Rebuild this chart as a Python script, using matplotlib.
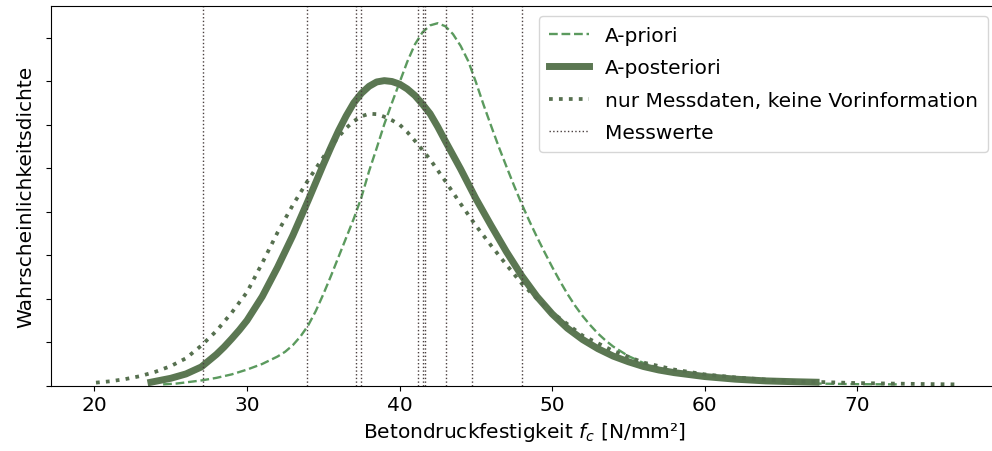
import numpy as np
import matplotlib
matplotlib.use("Agg")
import matplotlib.pyplot as plt

# values (density, x in N/mm²)
prior_x = [24.5, 25.4, 27, 28, 29, 30, 31, 32, 32.5, 33, 33.5, 34, 34.5, 35, 35.5, 36, 36.5,
           37, 37.5, 38, 38.5, 39, 39.5, 40, 40.5, 41, 41.5, 42, 42.5, 43, 43.5, 44, 44.5, 45,
           45.5, 46, 46.5, 47, 47.5, 48, 48.5, 49, 49.5, 50, 50.5, 51, 51.5, 52, 52.5, 53,
           53.5, 54, 55, 56, 57, 58, 60, 62, 64, 66, 68, 70, 72.6]
prior_y = [0.0003, 0.0005, 0.0012, 0.0018, 0.0026, 0.0037, 0.0050, 0.0067, 0.0078, 0.0093,
           0.0113, 0.0138, 0.0171, 0.0210, 0.0252, 0.0296, 0.0340, 0.0384, 0.0433, 0.0493,
           0.0546, 0.0601, 0.0650, 0.0697, 0.0744, 0.0784, 0.0812, 0.0828, 0.0833, 0.0826,
           0.0808, 0.0781, 0.0746, 0.0698, 0.0646, 0.0597, 0.0549, 0.0504, 0.0460, 0.0418,
           0.0379, 0.0342, 0.0307, 0.0273, 0.0241, 0.0211, 0.0184, 0.0160, 0.0139, 0.0120,
           0.0104, 0.0090, 0.0068, 0.0052, 0.0040, 0.0031, 0.0020, 0.0013, 0.0009, 0.0006,
           0.00045, 0.00035, 0.0003]

post_x = [23.7, 25, 26, 27, 28, 28.5, 29, 29.5, 30, 31, 32, 33, 34, 35, 35.5, 36, 36.5, 37,
          37.5, 38, 38.5, 39, 39.5, 40, 40.5, 41, 41.5, 42, 42.5, 43, 44, 45, 46, 47, 48, 49,
          50, 51, 52, 53, 54, 55, 56, 57, 58, 60, 62, 64, 66, 67.3]
post_y = [0.0008, 0.0017, 0.0027, 0.0043, 0.0072, 0.0089, 0.0108, 0.0128, 0.0150, 0.0205,
          0.0272, 0.0345, 0.0425, 0.0508, 0.0548, 0.0586, 0.0620, 0.0650, 0.0672, 0.0688,
          0.0698, 0.0701, 0.0699, 0.0693, 0.0682, 0.0667, 0.0647, 0.0625, 0.0595, 0.0562,
          0.0498, 0.0430, 0.0368, 0.0308, 0.0253, 0.0205, 0.0165, 0.0132, 0.0106, 0.0085,
          0.0068, 0.0055, 0.0044, 0.0036, 0.0030, 0.0021, 0.0015, 0.0011, 0.0009, 0.0008]

meas_x = [20.1, 21, 22, 23, 24, 25, 26, 27, 28, 29, 30, 31, 32, 33, 34, 35, 35.5, 36, 36.5,
          37, 37.5, 38, 38.5, 39, 39.5, 40, 40.5, 41, 42, 43, 44, 45, 46, 47, 48, 49, 50, 52,
          54, 56, 58, 60, 62, 64, 66, 68, 70, 72, 74, 76.5]
meas_y = [0.0007, 0.0010, 0.0015, 0.0022, 0.0032, 0.0045, 0.0063, 0.0092, 0.0126, 0.0168,
          0.0215, 0.0282, 0.0352, 0.0415, 0.0472, 0.0525, 0.0550, 0.0572, 0.0592, 0.0608,
          0.0619, 0.0625, 0.0624, 0.0618, 0.0610, 0.0600, 0.0583, 0.0563, 0.0520, 0.0470,
          0.0418, 0.0368, 0.0322, 0.0278, 0.0235, 0.0200, 0.0168, 0.0115, 0.0080, 0.0053,
          0.0037, 0.0026, 0.0019, 0.0014, 0.0010, 0.0008, 0.0006, 0.0005, 0.0004, 0.0003]

messwerte = [27.10, 33.91, 37.15, 37.48, 41.19, 41.51, 41.69, 43.04, 44.78, 48.02]

plt.rcParams["font.size"] = 14.5

fig = plt.figure(figsize=(9.92, 4.52), dpi=100)
ax = fig.add_axes([0.0514, 0.1445, 0.955, 0.8395])

ax.plot(prior_x, prior_y, "--", color="#5b9a5e", lw=1.7, label="A-priori")
ax.plot(post_x, post_y, "-", color="#5b7752", lw=5, label="A-posteriori")
ax.plot(meas_x, meas_y, ":", color="#56704f", lw=2.7, label="nur Messdaten, keine Vorinformation")
for i, m in enumerate(messwerte):
    ax.axvline(m, color="#4a3f3f", lw=1.0, ls=":", label="Messwerte" if i == 0 else None)

ax.set_xlim(17.15, 79.25)
ax.set_ylim(0, 0.0872)
ax.set_xticks([20, 30, 40, 50, 60, 70])
ax.set_yticks(np.arange(0, 0.081, 0.01))
ax.set_yticklabels([])
ax.set_xlabel("Betondruckfestigkeit $f_c$ [N/mm²]")
ax.set_ylabel("Wahrscheinlichkeitsdichte")
ax.legend(loc="upper right", labelspacing=0.65, borderpad=0.5)

fig.savefig("out.png", dpi=100)
